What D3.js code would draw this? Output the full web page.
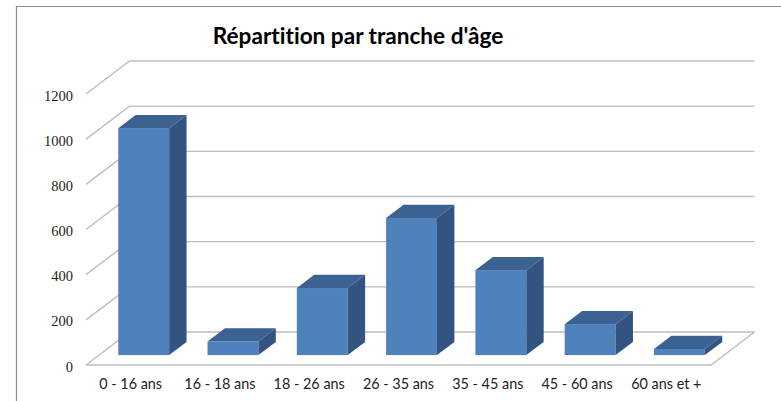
<!DOCTYPE html>
<html>
<head>
<meta charset="utf-8">
<script src="https://cdn.jsdelivr.net/npm/d3@7"></script>
<style>
  html, body { margin: 0; padding: 0; background: #fff; overflow: hidden; }
  text { font-variant-ligatures: none; }
</style>
</head>
<body>
<script>
const categories = ["0 - 16 ans", "16 - 18 ans", "18 - 26 ans", "26 - 35 ans", "35 - 45 ans", "45 - 60 ans", "60 ans et +"];
const values = [1005, 60, 297, 607, 376, 137, 27];
const yTicks = [0, 200, 400, 600, 800, 1000, 1200];
const title = "Répartition par tranche d'âge";

const w = 781;
const h = 401;

// floor corners of the fake 3D box
const left = 86, right = 711, bottom = 365, top3d = 94;
const depthX = 43.5, depthY = 33;
// bars stand in the middle of the depth
const barNear = 0.3, barFar = 0.7;

const xScale = d3.scaleBand()
  .domain(categories)
  .range([left, right])
  .paddingInner(0.43)
  .paddingOuter(0.215);

const yScale = d3.scaleLinear()
  .domain([0, 1200])
  .range([bottom, top3d]);

const svg = d3.select("body")
  .append("svg")
  .attr("width", w)
  .attr("height", h)
  .style("display", "block");

// chart border, only top and left are in the picture
svg.append("path")
  .attr("d", "M16.5,401V6.5H781")
  .attr("fill", "none")
  .attr("stroke", "#8c8c8c")
  .attr("stroke-width", 1.2);

// gridlines: side wall diagonal then back wall
svg.append("g")
  .selectAll("path")
  .data(yTicks)
  .enter()
  .append("path")
  .attr("d", (d) => {
    const y = yScale(d);
    return "M" + left + "," + y + "L" + (left + depthX) + "," + (y - depthY) + "H" + (right + depthX);
  })
  .attr("fill", "none")
  .attr("stroke", "#bdbdbd")
  .attr("stroke-width", 1.4);

// floor front and right edge
svg.append("path")
  .attr("d", "M" + left + "," + bottom + "H" + right + "L" + (right + depthX) + "," + (bottom - depthY))
  .attr("fill", "none")
  .attr("stroke", "#bdbdbd")
  .attr("stroke-width", 1.4);

const bars = svg.append("g")
  .selectAll("g")
  .data(categories.map((c, i) => ({ cat: c, val: values[i] })))
  .enter()
  .append("g")
  .attr("transform", "translate(" + (depthX * barNear) + "," + (-depthY * barNear) + ")");

const dx = depthX * (barFar - barNear);
const dy = depthY * (barFar - barNear);

// front
bars.append("rect")
  .attr("x", (d) => xScale(d.cat))
  .attr("y", (d) => yScale(d.val))
  .attr("width", xScale.bandwidth())
  .attr("height", (d) => bottom - yScale(d.val))
  .attr("fill", "#4f81bd");

// top
bars.append("path")
  .attr("d", (d) => {
    const x0 = xScale(d.cat), x1 = x0 + xScale.bandwidth(), y = yScale(d.val);
    return "M" + x0 + "," + y + "L" + (x0 + dx) + "," + (y - dy) + "H" + (x1 + dx) + "L" + x1 + "," + y + "Z";
  })
  .attr("fill", "#3c6291");

// side
bars.append("path")
  .attr("d", (d) => {
    const x1 = xScale(d.cat) + xScale.bandwidth(), y = yScale(d.val);
    return "M" + x1 + "," + y + "L" + (x1 + dx) + "," + (y - dy) + "V" + (bottom - dy) + "L" + x1 + "," + bottom + "Z";
  })
  .attr("fill", "#335480");

// axes, only labels are shown
const yAxis = d3.axisLeft(yScale).tickValues(yTicks).tickSize(0).tickPadding(13).tickFormat(d3.format("d"));
const gy = svg.append("g")
  .attr("transform", "translate(" + left + ",1.5)")
  .call(yAxis);
gy.select(".domain").remove();
gy.selectAll("text")
  .attr("font-family", "'Liberation Serif', serif")
  .attr("font-size", 14.5)
  .attr("fill", "#222");

const xAxis = d3.axisBottom(xScale).tickSize(0).tickPadding(14);
const gx = svg.append("g")
  .attr("transform", "translate(0," + bottom + ")")
  .call(xAxis);
gx.select(".domain").remove();
gx.selectAll("text")
  .attr("font-family", "Lato, sans-serif")
  .attr("font-size", 14.4)
  .attr("fill", "#222");

svg.append("text")
  .attr("x", 358)
  .attr("y", 44)
  .attr("text-anchor", "middle")
  .attr("font-family", "Lato, sans-serif")
  .attr("font-weight", "bold")
  .attr("font-size", 22.6)
  .attr("fill", "#000")
  .text(title);
</script>
</body>
</html>
